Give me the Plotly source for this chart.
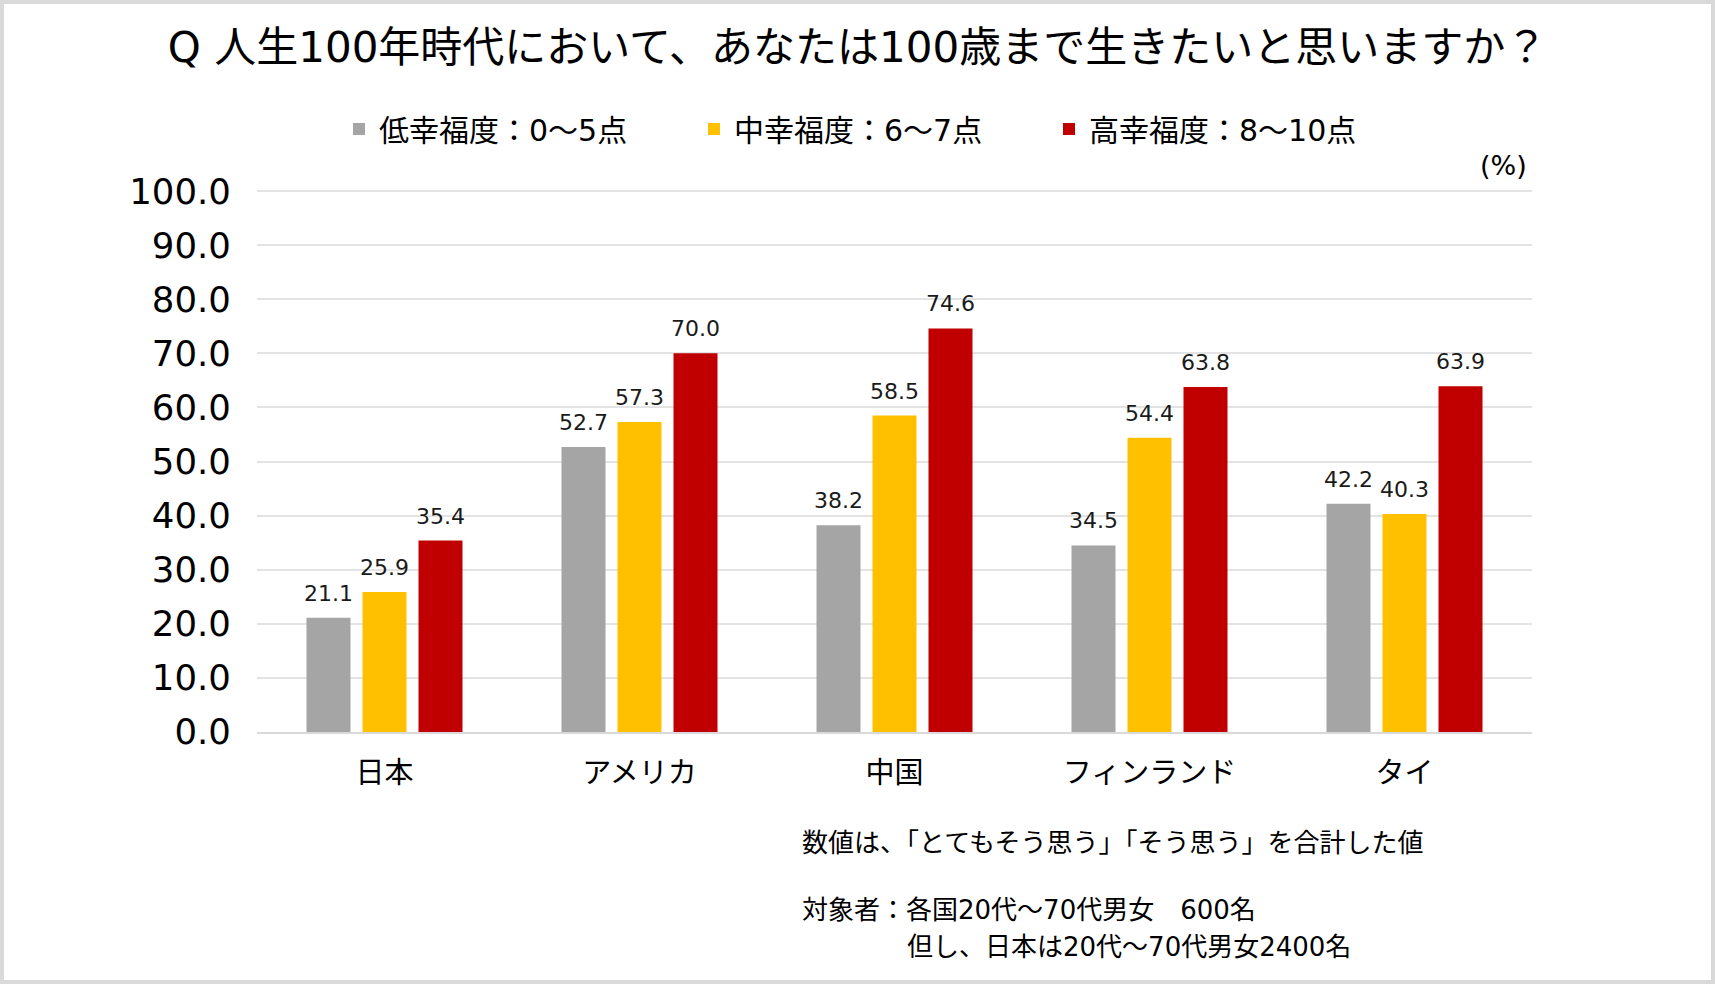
import plotly.graph_objects as go

# ---- data ----
categories = ["日本", "アメリカ", "中国", "フィンランド", "タイ"]
series_names = ["低幸福度：0～5点", "中幸福度：6～7点", "高幸福度：8～10点"]
low_vals = [21.1, 52.7, 38.2, 34.5, 42.2]
mid_vals = [25.9, 57.3, 58.5, 54.4, 40.3]
high_vals = [35.4, 70.0, 74.6, 63.8, 63.9]
colors = ["#A5A5A5", "#FFC000", "#C00000"]
y_ticks = [0, 10, 20, 30, 40, 50, 60, 70, 80, 90, 100]

title_text = "Q 人生100年時代において、あなたは100歳まで生きたいと思いますか？"
unit_text = "(%)"
note1 = "数値は、「とてもそう思う」「そう思う」を合計した値"
note2 = "対象者：各国20代～70代男女　600名"
note3 = "但し、日本は20代～70代男女2400名"

# ---- layout constants ----
W, H = 1715, 984
ML, MR, MT, MB = 257, 183, 190, 252
PW, PH = W - ML - MR, H - MT - MB
FONT = "DejaVu Sans, Noto Sans CJK JP"
bar_w = 44 / 255
slot = 56 / 255

fig = go.Figure()
annotations = []
for i, (name, vals, color) in enumerate(zip(series_names, [low_vals, mid_vals, high_vals], colors)):
    xs = [k + (i - 1) * slot for k in range(len(categories))]
    fig.add_trace(go.Bar(
        x=xs, y=vals, name=name, width=bar_w,
        marker=dict(color=color, line=dict(width=0)),
        hoverinfo="skip",
    ))
    for x, v in zip(xs, vals):
        annotations.append(dict(
            x=x, y=v, xref="x", yref="y", text=f"{v:.1f}", showarrow=False,
            yanchor="bottom", xanchor="center", yshift=10,
            font=dict(family=FONT, size=22, color="#1a1a1a"),
        ))

def px_x(px):
    return (px - ML) / PW

def px_y(py):
    return (H - MB - py) / PH

annotations += [
    dict(text=unit_text, xref="paper", yref="paper", x=px_x(1529), y=px_y(166),
         xanchor="right", yanchor="middle", showarrow=False,
         font=dict(family=FONT, size=27, color="#000")),
    dict(text=note1, xref="paper", yref="paper", x=px_x(800), y=px_y(843),
         xanchor="left", yanchor="middle", showarrow=False,
         font=dict(family=FONT, size=26, color="#000")),
    dict(text=note2, xref="paper", yref="paper", x=px_x(800), y=px_y(910),
         xanchor="left", yanchor="middle", showarrow=False,
         font=dict(family=FONT, size=26, color="#000")),
    dict(text=note3, xref="paper", yref="paper", x=px_x(905), y=px_y(947),
         xanchor="left", yanchor="middle", showarrow=False,
         font=dict(family=FONT, size=26, color="#000")),
]

fig.update_layout(
    width=W, height=H,
    margin=dict(l=ML, r=MR, t=MT, b=MB, pad=0),
    paper_bgcolor="white", plot_bgcolor="white",
    barmode="overlay",
    title=dict(text=title_text, x=0.5, xref="container", xanchor="center",
               y=1 - 47 / H, yref="container", yanchor="middle",
               font=dict(family=FONT, size=42, color="#000")),
    legend=dict(orientation="h", x=(857.5 + 14) / W, xref="container", xanchor="center",
                y=1 - 129 / H, yref="container", yanchor="middle",
                font=dict(family=FONT, size=30, color="#000"),
                entrywidth=310, entrywidthmode="pixels",
                traceorder="normal", itemclick=False),
    xaxis=dict(range=[-0.5, len(categories) - 0.5], tickvals=list(range(len(categories))),
               ticktext=categories, showgrid=False, zeroline=False,
               showline=True, linecolor="#D9D9D9", linewidth=2,
               ticks="outside", ticklen=14, tickcolor="rgba(0,0,0,0)",
               tickfont=dict(family=FONT, size=29, color="#000"), fixedrange=True),
    yaxis=dict(range=[0, 100.2], tickvals=y_ticks, tickformat=".1f",
               showgrid=True, gridcolor="#E3E3E3", gridwidth=1.5, zeroline=False,
               showline=False, ticks="outside", ticklen=18, tickcolor="rgba(0,0,0,0)",
               tickfont=dict(family=FONT, size=35.5, color="#000"), fixedrange=True),
    annotations=annotations,
    shapes=[dict(type="rect", xref="paper", yref="paper",
                 x0=px_x(2), x1=px_x(W - 2), y0=px_y(H - 2), y1=px_y(2),
                 line=dict(color="#D9D9D9", width=4), fillcolor="rgba(0,0,0,0)", layer="above")],
    showlegend=True,
)

fig.write_html("out.html", config={"displayModeBar": False},
               post_script="document.body.style.margin='0';document.body.style.overflow='hidden';")
